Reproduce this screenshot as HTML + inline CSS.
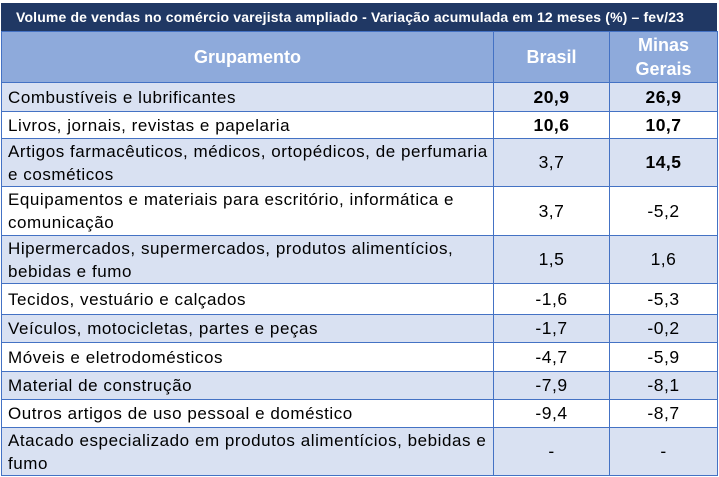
<!DOCTYPE html>
<html><head><meta charset="utf-8"><style>
body{margin:0;width:719px;height:477px;background:#fff;overflow:hidden;font-family:"Liberation Sans",sans-serif;}
#t{position:absolute;left:1px;top:3px;width:716px;height:28px;background:#203864;color:#fff;font-weight:bold;font-size:14px;line-height:28px;padding-left:15px;box-sizing:border-box;white-space:nowrap;letter-spacing:0.15px}
.c{position:absolute;box-sizing:border-box;border:1px solid #4472c4;display:flex;align-items:center;font-size:17px;color:#000;overflow:hidden}
.l{padding-left:6px;line-height:23px;letter-spacing:0.55px;white-space:nowrap}
.n{justify-content:center;letter-spacing:0.5px;font-size:17.5px}
.h{background:#8eaadb;color:#fff;font-weight:bold;font-size:18px;justify-content:center;text-align:center;line-height:24px}
.s{background:#d9e1f2}
.b{font-weight:bold}
</style></head><body>
<div id="t">Volume de vendas no comércio varejista ampliado - Variação acumulada em 12 meses (%) – fev/23</div>
<div id="g"></div>
<script>
const rows=[
["Combustíveis e lubrificantes","20,9","26,9",1,1],
["Livros, jornais, revistas e papelaria","10,6","10,7",1,1],
["Artigos farmacêuticos, médicos, ortopédicos, de perfumaria<br>e cosméticos","3,7","14,5",0,1],
["Equipamentos e materiais para escritório, informática e<br>comunicação","3,7","-5,2",0,0],
["Hipermercados, supermercados, produtos alimentícios,<br>bebidas e fumo","1,5","1,6",0,0],
["Tecidos, vestuário e calçados","-1,6","-5,3",0,0],
["Veículos, motocicletas, partes e peças","-1,7","-0,2",0,0],
["Móveis e eletrodomésticos","-4,7","-5,9",0,0],
["Material de construção","-7,9","-8,1",0,0],
["Outros artigos de uso pessoal e doméstico","-9,4","-8,7",0,0],
["Atacado especializado em produtos alimentícios, bebidas e<br>fumo","-","-",0,0]];
const ys=[82,111,138,186,235,283,314,342,371,399,427,475];
let h='';
h+=`<div class="c h" style="left:1px;top:31px;width:493px;height:52px">Grupamento</div>`;
h+=`<div class="c h" style="left:493px;top:31px;width:117px;height:52px">Brasil</div>`;
h+=`<div class="c h" style="left:609px;top:31px;width:109px;height:52px">Minas<br>Gerais</div>`;
rows.forEach((r,i)=>{const y=ys[i],hh=ys[i+1]-y+1,s=i%2==0?' s':'';
h+=`<div class="c l${s}" style="left:1px;top:${y}px;width:493px;height:${hh}px"><span>${r[0]}</span></div>`;
h+=`<div class="c n${s}${r[3]?' b':''}" style="left:493px;top:${y}px;width:117px;height:${hh}px">${r[1]}</div>`;
h+=`<div class="c n${s}${r[4]?' b':''}" style="left:609px;top:${y}px;width:109px;height:${hh}px">${r[2]}</div>`;});
document.getElementById('g').innerHTML=h;
</script>
</body></html>
